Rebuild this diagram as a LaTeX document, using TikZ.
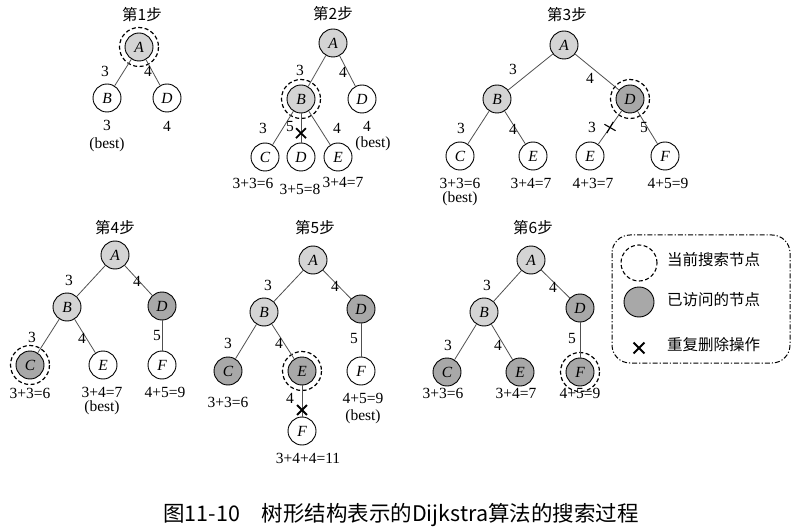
\documentclass[tikz,border=0pt]{standalone}
\usepackage{fontspec}
\setmainfont{Liberation Serif}
\newfontfamily\cjk{Noto Sans CJK SC}
\usetikzlibrary{shapes.misc,calc}
\definecolor{vlight}{RGB}{212,212,212}
\definecolor{vdark}{RGB}{168,168,168}
\definecolor{edgec}{RGB}{80,80,80}
\begin{document}
\begin{tikzpicture}[x=1pt,y=-1pt,
 nd/.style={circle,draw=black,line width=0.9pt,minimum size=28pt,inner sep=0pt,font=\fontsize{15.5}{15.5}\selectfont\itshape},
 lt/.style={nd,fill=vlight},
 dk/.style={nd,fill=vdark},
 wt/.style={nd,fill=white},
 ring/.style={dash pattern=on 4pt off 2.5pt,line width=1.2pt},
 ed/.style={draw=edgec,line width=0.8pt},
 wl/.style={font=\fontsize{15.5}{15.5}\selectfont,inner sep=0pt},
 ttl/.style={font=\cjk\fontsize{15.5}{15.5}\selectfont,inner sep=0pt},
 xmark/.style={cross out,draw=black,line width=1.8pt,minimum size=8pt,inner sep=0pt},
 xthin/.style={cross out,draw=black,line width=1.1pt,minimum size=8pt,inner sep=0pt,rotate=15}
]
\useasboundingbox (0,0) rectangle (797,529);

% ---------- Step 1 ----------
\node[ttl] (t1) at (142,15) {第1步};
\node[lt] (a1A) at (139,47) {A};
\node[wt] (a1B) at (107,98) {B};
\node[wt] (a1D) at (167,98) {D};
\draw[ring] (a1A.center) circle (19.5);
\draw[ed] (a1A) -- (a1B);
\draw[ed] (a1A) -- (a1D);
\node[wl] (a1w1) at (105,71) {3};
\node[wl] (a1w2) at (148,71) {4};
\node[wl] (a1v1) at (107,125) {3};
\node[wl] (a1v2) at (107,145) {(best)};
\node[wl] (a1v3) at (167,126) {4};

% ---------- Step 2 ----------
\node[ttl] (t2) at (333,14) {第2步};
\node[lt] (b2A) at (333,43) {A};
\node[lt] (b2B) at (301,99) {B};
\node[wt] (b2D) at (362,99) {D};
\node[wt] (b2C) at (265,157) {C};
\node[wt] (b2D2) at (301,157) {D};
\node[wt] (b2E) at (338,157) {E};
\draw[ring] (b2B.center) circle (19.5);
\draw[ed] (b2A) -- (b2B);
\draw[ed] (b2A) -- (b2D);
\draw[ed] (b2B) -- (b2C);
\draw[ed] (b2B) -- (b2D2);
\draw[ed] (b2B) -- (b2E);
\node[xmark] (b2x) at ($(b2B)!0.59!(b2D2)$) {};
\node[wl] at (300,70) {3};
\node[wl] at (343,72) {4};
\node[wl] at (263,128) {3};
\node[wl] at (290,127) {5};
\node[wl] at (337,128) {4};
\node[wl] at (367,126) {4};
\node[wl] at (373,144) {(best)};
\node[wl] at (253,183) {3+3=6};
\node[wl] at (300,189) {3+5=8};
\node[wl] at (343,182) {3+4=7};

% ---------- Step 3 ----------
\node[ttl] (t3) at (567,15) {第3步};
\node[lt] (c3A) at (564,45) {A};
\node[lt] (c3B) at (497,99) {B};
\node[dk] (c3D) at (630,99) {D};
\node[wt] (c3C) at (460,156) {C};
\node[wt] (c3E) at (533,156) {E};
\node[wt] (c3E2) at (590,156) {E};
\node[wt] (c3F) at (665,156) {F};
\draw[ring] (c3D.center) circle (19.5);
\draw[ed] (c3A) -- (c3B);
\draw[ed] (c3A) -- (c3D);
\draw[ed] (c3B) -- (c3C);
\draw[ed] (c3B) -- (c3E);
\draw[ed] (c3D) -- (c3E2);
\draw[ed] (c3D) -- (c3F);
\node[xthin] (c3x) at ($(c3D)!0.5!(c3E2)$) {};
\node[wl] at (513,69) {3};
\node[wl] at (590,78) {4};
\node[wl] at (461,128) {3};
\node[wl] at (513,129) {4};
\node[wl] at (592,127) {3};
\node[wl] at (644,128) {5};
\node[wl] at (460,183) {3+3=6};
\node[wl] at (460,199) {(best)};
\node[wl] at (531,183) {3+4=7};
\node[wl] at (593,183) {4+3=7};
\node[wl] at (668,183) {4+5=9};

% ---------- Step 4 ----------
\node[ttl] (t4) at (115,228) {第4步};
\node[lt] (d4A) at (115,255) {A};
\node[lt] (d4B) at (67,307) {B};
\node[dk] (d4D) at (162,306) {D};
\node[dk] (d4C) at (30,365) {C};
\node[wt] (d4E) at (103,365) {E};
\node[wt] (d4F) at (162,365) {F};
\draw[ring] (d4C.center) circle (19.5);
\draw[ed] (d4A) -- (d4B);
\draw[ed] (d4A) -- (d4D);
\draw[ed] (d4B) -- (d4C);
\draw[ed] (d4B) -- (d4E);
\draw[ed] (d4D) -- (d4F);
\node[wl] at (69,280) {3};
\node[wl] at (137,281) {4};
\node[wl] at (32,337) {3};
\node[wl] at (82,338) {4};
\node[wl] at (157,335) {5};
\node[wl] at (30,393) {3+3=6};
\node[wl] at (102,392) {3+4=7};
\node[wl] at (102,408) {(best)};
\node[wl] at (165,392) {4+5=9};

% ---------- Step 5 ----------
\node[ttl] (t5) at (315,228) {第5步};
\node[lt] (e5A) at (313,260) {A};
\node[lt] (e5B) at (264,312) {B};
\node[dk] (e5D) at (361,309) {D};
\node[dk] (e5C) at (228,371) {C};
\node[dk] (e5E) at (302,371) {E};
\node[wt] (e5F) at (361,371) {F};
\node[wt] (e5F2) at (302,431) {F};
\draw[ring] (e5E.center) circle (19.5);
\draw[ed] (e5A) -- (e5B);
\draw[ed] (e5A) -- (e5D);
\draw[ed] (e5B) -- (e5C);
\draw[ed] (e5B) -- (e5E);
\draw[ed] (e5D) -- (e5F);
\draw[ed] (e5E) -- (e5F2);
\node[xmark] (e5x) at ($(e5E)!0.65!(e5F2)$) {};
\node[wl] at (268,285) {3};
\node[wl] at (335,286) {4};
\node[wl] at (228,343) {3};
\node[wl] at (279,343) {4};
\node[wl] at (354,338) {5};
\node[wl] at (290,398) {4};
\node[wl] at (228,402) {3+3=6};
\node[wl] at (363,398) {4+5=9};
\node[wl] at (363,417) {(best)};
\node[wl] at (308,458) {3+4+4=11};

% ---------- Step 6 ----------
\node[ttl] (t6) at (533,228) {第6步};
\node[lt] (f6A) at (531,260) {A};
\node[lt] (f6B) at (484,312) {B};
\node[dk] (f6D) at (580,308) {D};
\node[dk] (f6C) at (447,372) {C};
\node[dk] (f6E) at (520,372) {E};
\node[dk] (f6F) at (580,372) {F};
\draw[ring] (f6F.center) circle (19.5);
\draw[ed] (f6A) -- (f6B);
\draw[ed] (f6A) -- (f6D);
\draw[ed] (f6B) -- (f6C);
\draw[ed] (f6B) -- (f6E);
\draw[ed] (f6D) -- (f6F);
\node[wl] at (487,285) {3};
\node[wl] at (553,287) {4};
\node[wl] at (448,345) {3};
\node[wl] at (498,345) {4};
\node[wl] at (572,338) {5};
\node[wl] at (443,393) {3+3=6};
\node[wl] at (516,393) {3+4=7};
\node[wl] at (580,393) {4+5=9};

% ---------- Legend ----------
\draw[line width=1pt,rounded corners=18pt,dash pattern=on 5pt off 2pt on 1.2pt off 2pt] (612,235) rectangle (790,363);
\node[circle,draw=black,line width=1.1pt,dash pattern=on 4pt off 2.5pt,minimum size=36pt,inner sep=0pt] (lg1) at (639,263) {};
\node[circle,draw=black,line width=0.9pt,fill=vdark,minimum size=30pt,inner sep=0pt] (lg2) at (639,302) {};
\node[xmark,minimum size=9pt] (lg3) at (639,348) {};
\node[ttl,anchor=west] (lt1) at (667,260) {当前搜索节点};
\node[ttl,anchor=west] (lt2) at (667,300) {已访问的节点};
\node[ttl,anchor=west] (lt3) at (667,345) {重复删除操作};

% ---------- Caption ----------
\node[font=\cjk\fontsize{21.5}{21.5}\selectfont,inner sep=0pt] (cap) at (401,515) {图11-10\hspace{1em}树形结构表示的Dijkstra算法的搜索过程};
\end{tikzpicture}
\end{document}
